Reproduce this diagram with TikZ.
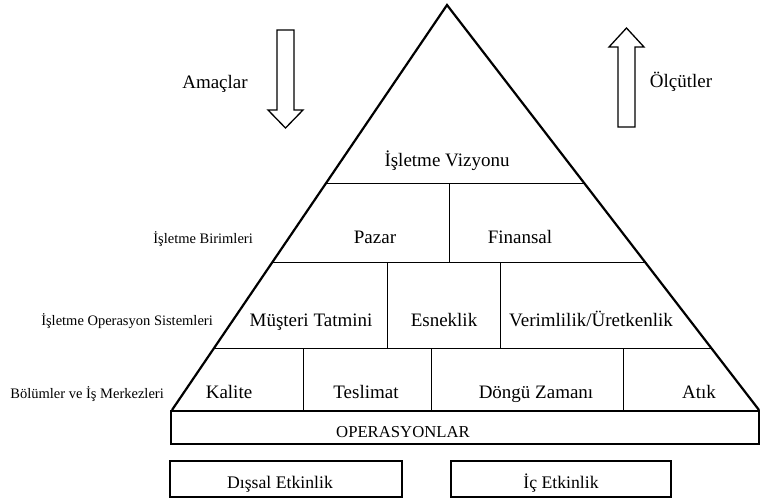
\documentclass[tikz,border=0pt]{standalone}
\usepackage{fontspec}
\setmainfont{Liberation Serif}
\begin{document}
\begin{tikzpicture}[x=1pt,y=-1pt,
  big/.style={font=\fontsize{19}{21}\selectfont, inner sep=0pt, anchor=base},
  mid/.style={font=\fontsize{17.7}{20}\selectfont, inner sep=0pt, anchor=base},
  small/.style={font=\fontsize{14.5}{16}\selectfont, inner sep=0pt, anchor=base east},
  edge/.style={line width=2.2pt, line join=miter},
  divider/.style={line width=1pt},
  hollow/.style={line width=1.3pt, line join=miter},
  boxline/.style={line width=1.5pt}]
\useasboundingbox (0,0) rectangle (760,499);
% pyramid
\draw[edge] (172,410) -- (447,5) -- (759,410);
\draw[divider] (326.1,183) -- (584.1,183);
\draw[divider] (272.5,262) -- (644.9,262);
\draw[divider] (214.1,348) -- (711.1,348);
\draw[divider] (449,183) -- (449,262);
\draw[divider] (387,262) -- (387,348);
\draw[divider] (500,262) -- (500,348);
\draw[divider] (303,348) -- (303,410);
\draw[divider] (431,348) -- (431,410);
\draw[divider] (623,348) -- (623,410);
% base boxes
\draw[line width=2.2pt] (171,411) rectangle (759,444);
\draw[boxline] (170,461) rectangle (402,497);
\draw[boxline] (451,461) rectangle (671,497);
% arrows
\draw[hollow] (277,30) -- (294,30) -- (294,110) -- (303,110) -- (285.5,128) -- (268,110) -- (277,110) -- cycle;
\draw[hollow] (618,127) -- (635,127) -- (635,47) -- (644,47) -- (626.5,28) -- (609,47) -- (618,47) -- cycle;
% texts
\node[big] (amac) at (215,88) {Amaçlar};
\node[big] (olc) at (681,87) {Ölçütler};
\node[big] (viz) at (447,166) {İşletme Vizyonu};
\node[big] (pazar) at (375,243) {Pazar};
\node[big] (fin) at (520,243) {Finansal};
\node[big] (must) at (311,326) {Müşteri Tatmini};
\node[big] (esn) at (444,326) {Esneklik};
\node[big] (ver) at (591,326) {Verimlilik/Üretkenlik};
\node[big] (kal) at (229,398) {Kalite};
\node[big] (tes) at (366,398) {Teslimat};
\node[big] (dong) at (536,398) {Döngü Zamanı};
\node[big] (atik) at (699,398) {Atık};
\node[small] (lb1) at (253,243) {İşletme Birimleri};
\node[small] (lb2) at (213,325) {İşletme Operasyon Sistemleri};
\node[small] (lb3) at (164,398) {Bölümler ve İş Merkezleri};
\node[font=\fontsize{16.7}{18}\selectfont, inner sep=0pt, anchor=base] (ops) at (403,437) {OPERASYONLAR};
\node[mid] (dis) at (280,488) {Dışsal Etkinlik};
\node[mid] (ic) at (561,488) {İç Etkinlik};
\end{tikzpicture}
\end{document}
